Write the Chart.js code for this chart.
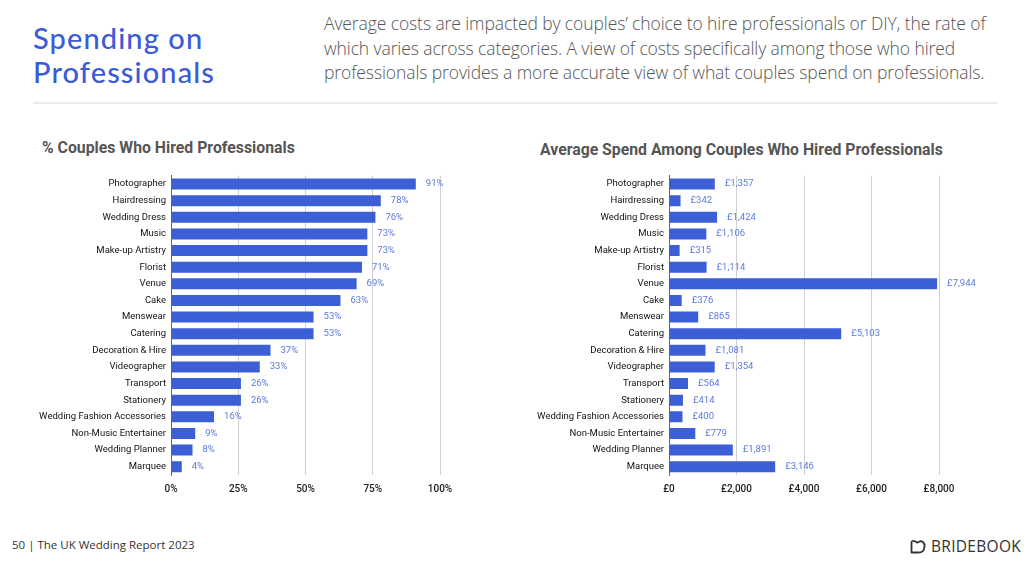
<!DOCTYPE html>
<html>
<head>
<meta charset="utf-8">
<script src="https://cdn.jsdelivr.net/npm/chart.js@4.4.1/dist/chart.umd.min.js"></script>
<style>
  html, body { margin: 0; padding: 0; background: #fff; }
  body { width: 1030px; height: 561px; position: relative; overflow: hidden; }
  .heading {
    position: absolute; left: 33px; top: 21px;
    font-family: "Lato", sans-serif; font-size: 29px; line-height: 34px;
    color: #3b5bd9; font-weight: 500; letter-spacing: 1.1px;
  }
  .intro {
    position: absolute; left: 324px; top: 11px; width: 690px;
    font-family: "Open Sans", sans-serif; font-weight: 300; font-size: 17.5px;
    line-height: 24.5px; color: #555; letter-spacing: -0.1px;
  }
  .rule { position: absolute; left: 33px; top: 102px; width: 964px; height: 2px; background: #ececec; }
  .chart-title {
    position: absolute; font-family: Roboto, sans-serif; font-weight: 700;
    font-size: 15.8px; color: #555;
  }
  canvas { position: absolute; }
  .footer {
    position: absolute; left: 12px; top: 537px;
    font-family: "Open Sans", sans-serif; font-size: 11.5px; color: #333;
  }
  .logo {
    position: absolute; left: 910px; top: 535px;
    font-family: "Open Sans", sans-serif; font-size: 15.5px; color: #333;
    display: flex; align-items: center; gap: 5px; letter-spacing: 0.3px;
  }
</style>
</head>
<body>
<div class="heading">Spending on<br>Professionals</div>
<div class="intro">Average costs are impacted by couples’ choice to hire professionals or DIY, the rate of which varies across categories. A view of costs specifically among those who hired professionals provides a more accurate view of what couples spend on professionals.</div>
<div class="rule"></div>

<div class="chart-title" style="left:42px; top:138px;">% Couples Who Hired Professionals</div>
<div class="chart-title" style="left:540px; top:140px;">Average Spend Among Couples Who Hired Professionals</div>

<canvas id="hiredChart" style="left:30px; top:165px;"></canvas>
<canvas id="spendChart" style="left:520px; top:165px;"></canvas>

<div class="footer">50 | The UK Wedding Report 2023</div>
<div class="logo">
  <svg width="16" height="15" viewBox="0 0 16 15"><path d="M1.5 13.5 V4 Q1.5 1.3 4.2 2 L7.5 3.6 Q10.5 1.3 13 3 Q14.8 4.5 14.5 8 Q14 13.5 8.5 13.5 Z" fill="none" stroke="#333" stroke-width="1.8" stroke-linejoin="round"/></svg>
  <span>BRIDEBOOK</span>
</div>

<script>
// categories (same order in both charts)
const categories = ['Photographer', 'Hairdressing', 'Wedding Dress', 'Music', 'Make-up Artistry',
    'Florist', 'Venue', 'Cake', 'Menswear', 'Catering', 'Decoration & Hire', 'Videographer',
    'Transport', 'Stationery', 'Wedding Fashion Accessories', 'Non-Music Entertainer',
    'Wedding Planner', 'Marquee'];

// % of couples who hired a professional
const hiredPct = [91, 78, 76, 73, 73, 71, 69, 63, 53, 53, 37, 33, 26, 26, 16, 9, 8, 4];

// average spend (£) among couples who hired
const avgSpend = [1357, 342, 1424, 1106, 315, 1114, 7944, 376, 865, 5103, 1081, 1354,
    564, 414, 400, 779, 1891, 3146];

const pctTicks = [0, 25, 50, 75, 100];
const spendTicks = [0, 2000, 4000, 6000, 8000];

const barColor = '#3d5fd6';
const valueColor = '#5a7ae0';
const plotTop = 174.6 - 165;   // chart area top inside the canvas
const plotHeight = 300.8;

// draws the value text just past the end of each bar
const valueLabels = {
    id: 'valueLabels',
    afterDatasetsDraw(chart, args, opts) {
        const ctx = chart.ctx;
        const meta = chart.getDatasetMeta(0);
        const data = chart.data.datasets[0].data;
        ctx.save();
        ctx.font = '9.5px Roboto';
        ctx.fillStyle = valueColor;
        ctx.textBaseline = 'middle';
        meta.data.forEach((bar, i) => {
            ctx.fillText(opts.format(data[i]), bar.x + 10, bar.y);
        });
        ctx.restore();
    }
};

function makeChart(id, values, ticks, yAxisWidth, width, padRight, tickFormat, valueFormat) {
    const canvas = document.getElementById(id);
    canvas.style.width = width + 'px';
    canvas.style.height = (plotTop + plotHeight + 25) + 'px';
    return new Chart(canvas, {
        type: 'bar',
        data: {
            labels: categories,
            datasets: [{
                data: values,
                backgroundColor: barColor,
                barPercentage: 0.66,
                categoryPercentage: 1
            }]
        },
        options: {
            indexAxis: 'y',
            responsive: false,
            animation: false,
            layout: { padding: { top: plotTop, right: padRight, left: 0, bottom: 0 } },
            plugins: {
                legend: { display: false },
                tooltip: { enabled: false },
                valueLabels: { format: valueFormat }
            },
            scales: {
                x: {
                    min: ticks[0],
                    max: ticks[ticks.length - 1],
                    afterBuildTicks(scale) { scale.ticks = ticks.map(v => ({ value: v })); },
                    afterFit(scale) { scale.height = 25; },
                    grid: { color: '#d0d0d0', drawTicks: false },
                    border: { display: false },
                    ticks: {
                        padding: 8,
                        color: '#222',
                        font: { family: 'Roboto', size: 10, weight: '500' },
                        callback: v => tickFormat(v)
                    }
                },
                y: {
                    afterFit(scale) { scale.width = yAxisWidth; },
                    grid: { display: false, drawTicks: false },
                    border: { display: true, color: '#666', width: 1 },
                    ticks: {
                        padding: 5,
                        color: '#111',
                        autoSkip: false,
                        font: { family: 'Roboto', size: 9.5 }
                    }
                }
            }
        },
        plugins: [valueLabels]
    });
}

const money = v => '£' + v.toLocaleString('en-GB');

makeChart('hiredChart', hiredPct, pctTicks, 141, 440, 30, v => v + '%', v => v + '%');
makeChart('spendChart', avgSpend, spendTicks, 149, 464, 45, money, money);
</script>
</body>
</html>
